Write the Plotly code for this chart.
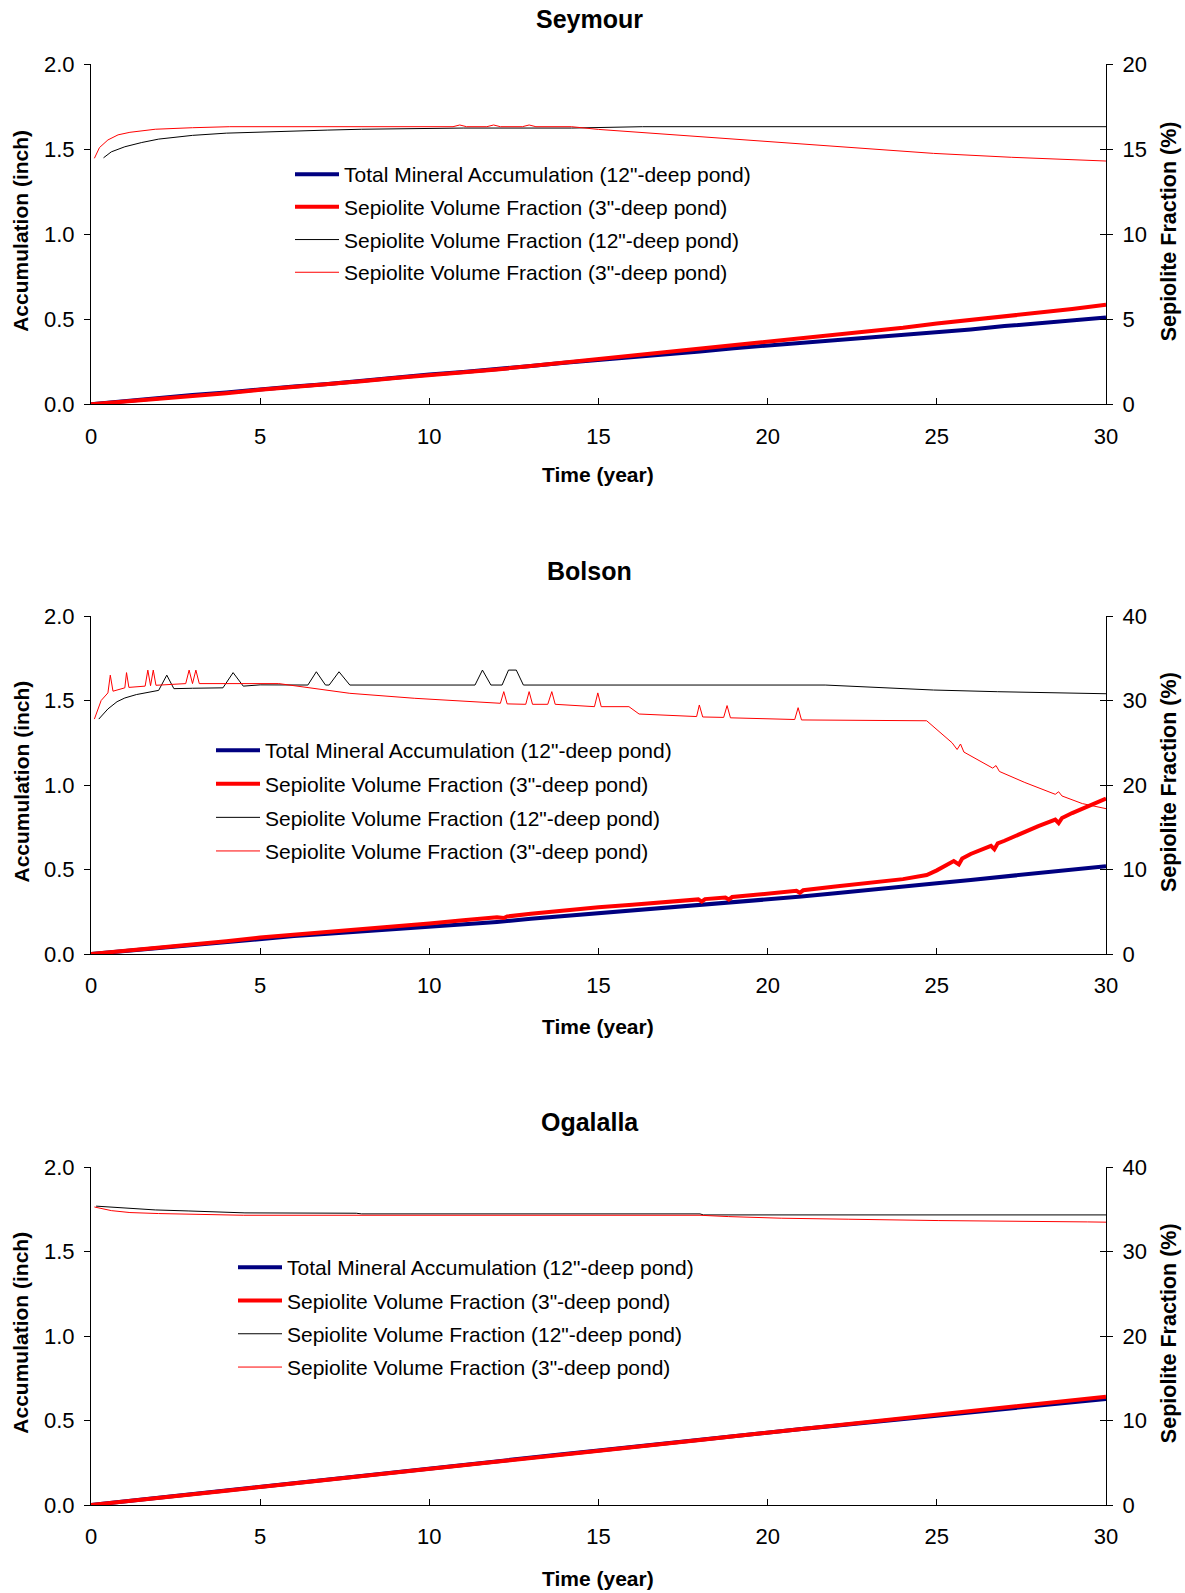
import plotly.graph_objects as go

# ---------------- data ----------------
PANELS = ["Seymour", "Bolson", "Ogalalla"]
LEGEND_NAMES = ['Total Mineral Accumulation (12"-deep pond)',
                'Sepiolite Volume Fraction (3"-deep pond)',
                'Sepiolite Volume Fraction (12"-deep pond)',
                'Sepiolite Volume Fraction (3"-deep pond)']
X_TICKS = [0, 5, 10, 15, 20, 25, 30]
LEFT_TICKS = [0.0, 0.5, 1.0, 1.5, 2.0]
RIGHT_TICKS = [[0, 5, 10, 15, 20], [0, 10, 20, 30, 40], [0, 10, 20, 30, 40]]

YEARS = list(range(0, 31))

# Seymour
SEY_ACC12 = [0.0, 0.02, 0.035, 0.055, 0.07, 0.09, 0.105, 0.12, 0.14, 0.155, 0.175,
             0.19, 0.205, 0.225, 0.245, 0.26, 0.28, 0.295, 0.31, 0.33, 0.345,
             0.36, 0.375, 0.39, 0.41, 0.425, 0.44, 0.46, 0.475, 0.495, 0.51]
SEY_ACC3 = [0.0, 0.015, 0.03, 0.05, 0.065, 0.085, 0.1, 0.12, 0.135, 0.155, 0.17,
            0.19, 0.205, 0.225, 0.245, 0.265, 0.285, 0.305, 0.325, 0.345, 0.37,
            0.39, 0.41, 0.43, 0.45, 0.475, 0.495, 0.515, 0.535, 0.56, 0.585]
SEY_F12_T = [0.37, 0.6, 1.0, 1.5, 2.0, 3.0, 4.0, 5.0, 6.0, 7.0, 8.0, 9.0, 10.0, 11.0,
             14.2, 15.0, 16.3, 30.0]
SEY_F12 = [14.5, 14.85, 15.15, 15.4, 15.6, 15.82, 15.95, 16.02, 16.08, 16.13, 16.18,
           16.21, 16.24, 16.25, 16.25, 16.28, 16.33, 16.33]
SEY_F3_T = [0.1, 0.25, 0.5, 0.8, 1.15, 1.5, 1.9, 3.0, 4.1, 10.7, 10.9, 11.1, 11.7, 11.9,
            12.1, 12.75, 12.95, 13.15, 14.2, 15.0, 16.3, 17.5, 19.1, 21.0, 23.0, 24.9,
            27.2, 28.7, 30.0]
SEY_F3 = [14.47, 15.1, 15.55, 15.85, 16.0, 16.1, 16.18, 16.27, 16.33, 16.33, 16.43,
          16.33, 16.33, 16.43, 16.33, 16.33, 16.43, 16.33, 16.33, 16.17, 15.98, 15.8,
          15.59, 15.29, 15.0, 14.76, 14.53, 14.41, 14.31]

# Bolson
BOL_ACC12 = [0.0, 0.018, 0.036, 0.054, 0.073, 0.093, 0.106, 0.12, 0.133, 0.147, 0.16,
             0.175, 0.19, 0.208, 0.224, 0.24, 0.255, 0.27, 0.288, 0.304, 0.32,
             0.34, 0.36, 0.378, 0.398, 0.418, 0.438, 0.458, 0.478, 0.5, 0.52]
BOL_ACC3_T = [0, 1, 2, 3, 4, 5, 6, 7, 8, 9, 10, 11, 12, 12.2, 12.3, 13, 13.6, 13.7, 14,
              15, 16, 17, 17.95, 18.05, 18.15, 18.75, 18.85, 18.95, 19, 20, 20.85,
              20.95, 21.05, 22, 23, 24, 24.7, 25, 25.5, 25.65, 25.75,
              26, 26.6, 26.7, 26.8, 27, 28, 28.5, 28.6, 28.7, 29, 30]
BOL_ACC3 = [0.0, 0.018, 0.037, 0.056, 0.076, 0.097, 0.113, 0.13, 0.147, 0.163, 0.18,
            0.2, 0.218, 0.213, 0.222, 0.238, 0.25, 0.252, 0.257, 0.276, 0.292, 0.308,
            0.323, 0.31, 0.325, 0.334, 0.322, 0.337, 0.338, 0.356, 0.374, 0.362, 0.377,
            0.399, 0.42, 0.443, 0.467, 0.495, 0.55, 0.53,
            0.565, 0.592, 0.64, 0.62, 0.655, 0.67, 0.757, 0.795, 0.775, 0.805, 0.834, 0.92]
BOL_F12_T = [0.23, 0.5, 0.77, 1.0, 1.34, 1.7, 2.0, 2.24, 2.45, 3.0, 3.9, 4.2, 4.5, 5.0,
             6.41, 6.66, 6.93, 7.04, 7.33, 7.65, 11.35, 11.57, 11.82, 12.15, 12.34,
             12.57, 12.78, 21.7, 23.0, 24.9, 26.8, 28.7, 30.0]
BOL_F12 = [27.8, 29.0, 29.86, 30.3, 30.7, 31.0, 31.2, 33.0, 31.4, 31.45, 31.5, 33.3,
           31.7, 31.85, 31.83, 33.4, 31.83, 31.83, 33.4, 31.83, 31.83, 33.6, 31.83,
           31.83, 33.6, 33.6, 31.83, 31.83, 31.56, 31.24, 31.04, 30.85, 30.8]
BOL_F3_T = [0.1, 0.3, 0.5, 0.57, 0.65, 1.0, 1.05, 1.12, 1.6, 1.68, 1.76, 1.84, 1.92,
            2.8, 2.9, 3.0, 3.1, 3.2, 5.55, 6.7, 7.65, 9.57, 11.5, 12.1, 12.2, 12.3,
            12.85, 12.95, 13.05, 13.5, 13.62, 13.72, 14.88, 14.98, 15.08, 15.9, 16.2,
            17.9, 17.98, 18.08, 18.7, 18.8, 18.9, 20.0, 20.8, 20.9, 21.0, 24.7, 25.45,
            25.6, 25.7, 25.8, 26.2, 26.65, 26.75, 26.85, 27.6, 28.5, 28.6, 28.7, 29.3, 30.0]
BOL_F3 = [27.8, 30.0, 30.9, 33.0, 31.1, 31.5, 33.3, 31.55, 31.7, 33.6, 31.75, 33.6,
          31.8, 32.0, 33.6, 32.0, 33.6, 32.0, 32.0, 31.36, 30.85, 30.26, 29.78, 29.67,
          31.05, 29.6, 29.55, 31.05, 29.55, 29.55, 31.05, 29.55, 29.27, 30.9, 29.27,
          29.27, 28.4, 28.1, 29.47, 28.05, 28.0, 29.4, 27.95, 27.8, 27.75, 29.15, 27.7,
          27.6, 25.0, 24.2, 24.85, 23.9, 22.96, 22.0, 22.3, 21.6, 20.3, 18.9, 19.2,
          18.7, 17.8, 17.2]

# Ogalalla
OGA_ACC12 = [0.0, 0.022, 0.044, 0.066, 0.087, 0.109, 0.13, 0.152, 0.173, 0.194, 0.216,
             0.237, 0.259, 0.28, 0.302, 0.323, 0.345, 0.366, 0.387, 0.408, 0.429,
             0.45, 0.47, 0.49, 0.51, 0.528, 0.548, 0.568, 0.588, 0.608, 0.628]
OGA_ACC3 = [0.0, 0.02, 0.042, 0.063, 0.085, 0.107, 0.128, 0.149, 0.17, 0.191, 0.213,
            0.235, 0.256, 0.278, 0.3, 0.322, 0.343, 0.364, 0.385, 0.407, 0.428,
            0.449, 0.47, 0.49, 0.51, 0.53, 0.552, 0.574, 0.596, 0.618, 0.641]
OGA_F12_T = [0.15, 0.6, 1.15, 1.9, 2.87, 4.5, 4.55, 7.84, 8.0, 18.0, 18.1, 30.0]
OGA_F12 = [35.4, 35.27, 35.1, 34.95, 34.83, 34.68, 34.6, 34.56, 34.48, 34.48, 34.36, 34.36]
OGA_F3_T = [0.1, 0.4, 0.6, 1.15, 2.0, 4.5, 18.0, 18.85, 20.4, 22.4, 25.06, 29.46, 30.0]
OGA_F3 = [35.3, 35.07, 34.87, 34.64, 34.52, 34.32, 34.32, 34.16, 33.97, 33.85, 33.69,
          33.53, 33.5]

SERIES = [
    (YEARS, SEY_ACC12, YEARS, SEY_ACC3, SEY_F12_T, SEY_F12, SEY_F3_T, SEY_F3),
    (YEARS, BOL_ACC12, BOL_ACC3_T, BOL_ACC3, BOL_F12_T, BOL_F12, BOL_F3_T, BOL_F3),
    (YEARS, OGA_ACC12, YEARS, OGA_ACC3, OGA_F12_T, OGA_F12, OGA_F3_T, OGA_F3),
]

# ---------------- layout geometry (pixels) ----------------
W, H = 1185, 1593
L, R = 91, 1106
PW = R - L
TOPS = [64.3, 616.0, 1167.3]
BOTS = [404.3, 954.0, 1505.0]
LEG_LEFT = [290.0, 211.0, 233.0]
LEG_TOP = [154.0, 730.0, 1247.0]
LEG_GAP = [2.4, 3.3, 3.0]
XT_OFF = [70.5, 72.5, 73.0]

FONT = "Liberation Sans, Arial, sans-serif"


def px(x):
    return (x - L) / PW


def py(y):
    return 1 - y / H


fig = go.Figure()
layout = dict(
    width=W, height=H, paper_bgcolor="white", plot_bgcolor="white",
    margin=dict(l=L, r=W - R, t=0, b=0, autoexpand=False),
    font=dict(family=FONT, size=21, color="black"),
    showlegend=True, annotations=[],
)

colors = ["#000080", "#FF0000", "#000000", "#FF0000"]
widths = [4, 4, 1, 1]

for i, name in enumerate(PANELS):
    xa = "x" if i == 0 else f"x{i + 1}"
    ya = f"y{2 * i + 1}" if i > 0 else "y"
    yb = f"y{2 * i + 2}"
    yc = f"y{7 + i}"
    leg = "legend" if i == 0 else f"legend{i + 1}"
    s = SERIES[i]
    for k in range(4):
        fig.add_trace(go.Scatter(
            x=s[2 * k], y=s[2 * k + 1], mode="lines", name=LEGEND_NAMES[k],
            line=dict(color=colors[k], width=widths[k]),
            xaxis=xa, yaxis=(ya if k < 2 else yb), legend=leg,
            legendgroup=f"g{i}_{k}", hoverinfo="skip",
        ))
    # empty helper trace so the crossing-tick overlay axis is drawn
    fig.add_trace(go.Scatter(x=[], y=[], mode="lines", xaxis=xa, yaxis=yc,
                             showlegend=False, hoverinfo="skip"))
    dom = [py(BOTS[i]), py(TOPS[i])]
    xkey = "xaxis" if i == 0 else f"xaxis{i + 1}"
    yakey = "yaxis" if i == 0 else f"yaxis{2 * i + 1}"
    ybkey = f"yaxis{2 * i + 2}"
    yckey = f"yaxis{7 + i}"
    layout[xkey] = dict(
        domain=[0, 1], anchor=ya, range=[0, 30], tickvals=X_TICKS,
        ticks="inside", ticklen=6, tickcolor="black", showline=True,
        linecolor="black", linewidth=1, showgrid=False, zeroline=False,
        tickfont=dict(size=22), ticklabelstandoff=12,
    )
    layout[yakey] = dict(
        domain=dom, anchor=xa, range=[0, 2], tickvals=LEFT_TICKS, tickformat=".1f",
        ticks="outside", ticklen=6, tickcolor="black", showline=True,
        linecolor="black", linewidth=1, showgrid=False, zeroline=False,
        tickfont=dict(size=22), ticklabelstandoff=5,
    )
    rmax = RIGHT_TICKS[i][-1]
    layout[ybkey] = dict(
        overlaying=ya, side="right", anchor=xa, range=[0, rmax],
        tickvals=RIGHT_TICKS[i], ticks="outside", ticklen=6, tickcolor="black",
        showline=True, linecolor="black", linewidth=1, showgrid=False,
        zeroline=False, tickfont=dict(size=22), ticklabelstandoff=5,
    )
    layout[yckey] = dict(
        overlaying=ya, side="right", anchor=xa, range=[0, rmax],
        tickvals=RIGHT_TICKS[i], ticks="inside", ticklen=6, tickcolor="black",
        showticklabels=False, showline=False, showgrid=False, zeroline=False,
    )
    layout[leg] = dict(
        x=px(LEG_LEFT[i]), y=py(LEG_TOP[i]), xanchor="left", yanchor="top",
        bgcolor="rgba(0,0,0,0)", borderwidth=0, font=dict(size=21),
        itemwidth=44, tracegroupgap=LEG_GAP[i], traceorder="grouped",
    )
    mid = (TOPS[i] + BOTS[i]) / 2 - 3
    layout["annotations"] += [
        dict(text=f"<b>{name}</b>", x=px(589.5), y=py(TOPS[i] - 45), xref="paper",
             yref="paper", showarrow=False, font=dict(size=25),
             xanchor="center", yanchor="middle"),
        dict(text="<b>Accumulation (inch)</b>", x=px(20.5), y=py(mid), xref="paper",
             yref="paper", showarrow=False, textangle=-90, font=dict(size=21),
             xanchor="center", yanchor="middle"),
        dict(text="<b>Sepiolite Fraction (%)</b>", x=px(1169), y=py(mid), xref="paper",
             yref="paper", showarrow=False, textangle=-90, font=dict(size=21.5),
             xanchor="center", yanchor="middle"),
        dict(text="<b>Time (year)</b>", x=px(598), y=py(BOTS[i] + XT_OFF[i]),
             xref="paper", yref="paper", showarrow=False, font=dict(size=21),
             xanchor="center", yanchor="middle"),
    ]

fig.update_layout(**layout)
fig.write_html("out.html", config={"displayModeBar": False},
               post_script="document.body.style.margin='0px';"
                           "document.body.style.overflow='hidden';")
